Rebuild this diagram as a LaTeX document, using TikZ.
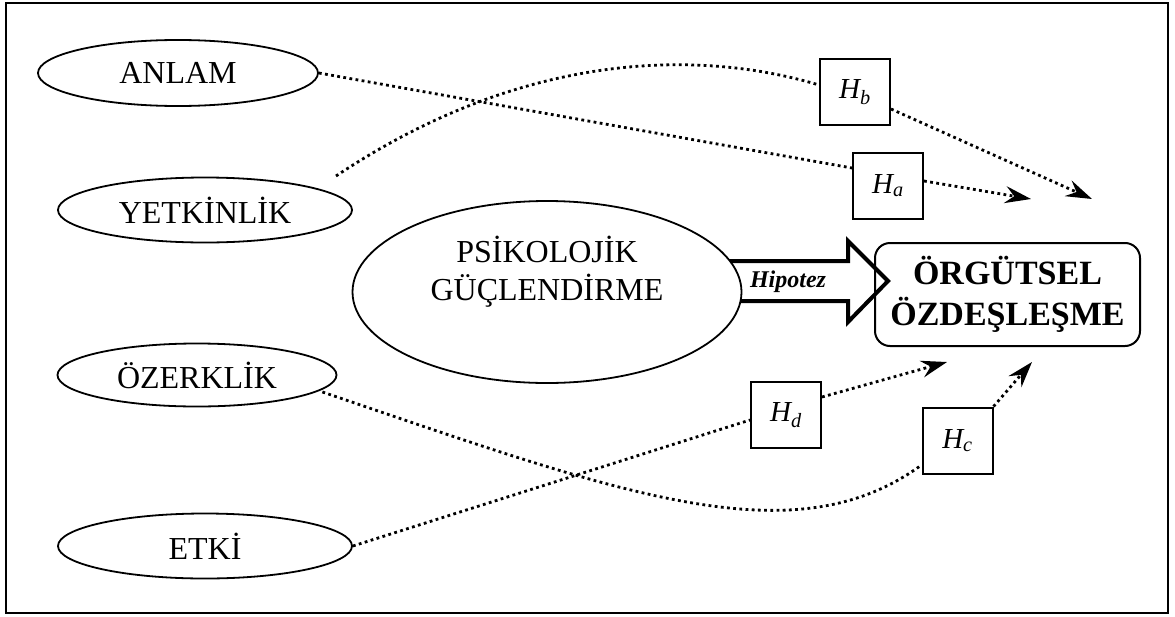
\documentclass[tikz,border=0pt]{standalone}
\usepackage{fontspec}
\setmainfont{Liberation Serif}
\usetikzlibrary{shapes.geometric,arrows.meta}

\begin{document}
\begin{tikzpicture}[x=1pt,y=-1pt,
  dimension/.style={ellipse,draw,line width=1.8pt,inner sep=0pt,font=\fontsize{32}{37}\selectfont},
  hyp/.style={draw,line width=2pt,fill=white,minimum width=70pt,minimum height=66pt,inner sep=0pt,font=\fontsize{29}{30}\selectfont\itshape},
  link/.style={line width=2.8pt,dash pattern=on 2.8pt off 3.4pt},
  linktip/.style={link,-{Stealth[length=26pt,width=17pt,inset=9pt]}}]
  \useasboundingbox (0,0) rectangle (1175,616);
  \draw [line width=2.5pt] (6,3) rectangle (1168,613);
  % the four dimensions
  \node (anlam) at (178,73) [dimension,minimum width=280pt,minimum height=66pt] {ANLAM};
  \node (yetkin) at (205,210) [dimension,minimum width=294pt,minimum height=65pt] {YETKİNLİK};
  \node (ozerk) at (197,375) [dimension,minimum width=279pt,minimum height=63pt] {ÖZERKLİK};
  \node (etki) at (205,546) [dimension,minimum width=294pt,minimum height=65pt] {ETKİ};
  % block arrow, then the big ellipse on top of its tail
  \draw [line width=4pt,line join=miter,fill=white] (700,261) -- (848,261) -- (848,241) -- (888,281) -- (848,322) -- (848,301) -- (700,301) -- cycle;
  \node (psiko) at (547,292) [dimension,fill=white,minimum width=389pt,minimum height=182pt] {};
  \node (psikolbl) at (547,272) [align=center,font=\fontsize{32}{38}\selectfont] {PSİKOLOJİK\\GÜÇLENDİRME};
  \node (hipo) at (788,282) [font=\fontsize{24}{26}\selectfont\bfseries\itshape] {Hipotez};
  \node (orgut) at (1007.5,294.5) [draw,rounded corners=15pt,line width=2pt,minimum width=265pt,minimum height=103pt,align=center,font=\fontsize{34}{41}\selectfont\bfseries] {ÖRGÜTSEL\\ÖZDEŞLEŞME};
  % hypotheses
  \node (hb) at (855,92) [hyp] {H\textsubscript{b}};
  \node (ha) at (888,185.5) [hyp] {H\textsubscript{a}};
  \node (hd) at (786,415) [hyp] {H\textsubscript{d}};
  \node (hc) at (957.5,440.5) [hyp] {H\textsubscript{c}};
  \coordinate (ys) at (336,176);
  \coordinate (ta) at (1031,199);
  \coordinate (tb) at (1092,199);
  \coordinate (td) at (947,362);
  \coordinate (tc) at (1032,362);
  \draw [link] (anlam.east) -- ([yshift=17.5pt]ha.west);
  \draw [linktip] ([yshift=4.5pt]ha.east) -- (ta);
  \draw [link] (ys) .. controls (540,40) and (720,55) .. ([yshift=7pt]hb.west);
  \draw [linktip] ([yshift=-17pt]hb.east) -- (tb);
  \draw [link] ([xshift=-15pt,yshift=-17pt]ozerk.east) .. controls (622,494) and (793,558.6) .. ([yshift=-24.5pt]hc.west);
  \draw [linktip] (hc.north east) -- (tc);
  \draw [link] (etki.east) -- ([yshift=-5pt]hd.west);
  \draw [linktip] ([yshift=18pt]hd.east) -- (td);
\end{tikzpicture}
\end{document}
